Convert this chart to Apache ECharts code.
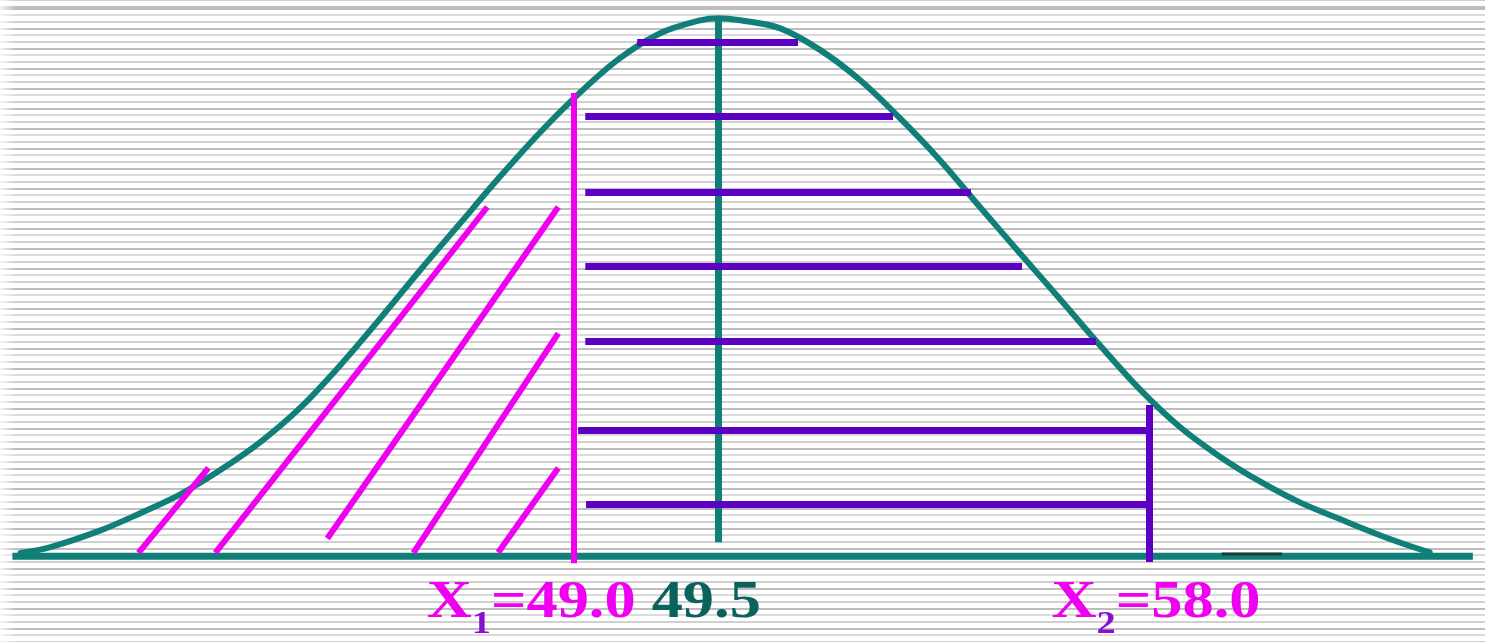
<!DOCTYPE html>
<html>
<head>
<meta charset="utf-8">
<script src="https://cdn.jsdelivr.net/npm/echarts@6/dist/echarts.min.js"></script>
<style>
  html, body { margin: 0; padding: 0; width: 1485px; height: 642px; overflow: hidden; }
  body {
    background-color: #fff;
    background-image:
      linear-gradient(to right, rgba(255,255,255,0.8) 0, rgba(255,255,255,0) 16px),
      repeating-linear-gradient(to bottom,
        #bdbdbd 0, #bdbdbd 2px, #fff 2px, #fff 6px,
        #dadada 6px, #dadada 8px, #fff 8px, #fff 13px,
        #d0d0d0 13px, #d0d0d0 15px, #fff 15px, #fff 20px);
    background-position: 0 0, 0 8px;
  }
  #chart { width: 1485px; height: 642px; }
</style>
</head>
<body>
<div id="chart"></div>
<script>
// Bell curve, in standard units (z) against relative height (peak = 1)
const curveZ = [-2.660, -2.547, -2.358, -2.208, -2.057, -1.906, -1.755, -1.604, -1.453, -1.302,
                -1.151, -1.000, -0.849, -0.698, -0.547, -0.396, -0.245, -0.094, -0.026, 0.057,
                0.208, 0.358, 0.509, 0.660, 0.811, 0.962, 1.113, 1.264, 1.415, 1.566,
                1.717, 1.868, 2.019, 2.170, 2.321, 2.472, 2.585, 2.660];
const curveH = [0.006, 0.017, 0.048, 0.080, 0.115, 0.160, 0.212, 0.276, 0.355, 0.442,
                0.532, 0.619, 0.706, 0.788, 0.862, 0.926, 0.972, 0.996, 1.000, 0.996,
                0.981, 0.941, 0.885, 0.814, 0.736, 0.649, 0.563, 0.478, 0.392, 0.310,
                0.240, 0.185, 0.139, 0.100, 0.069, 0.039, 0.019, 0.007];

// Horizontal axis line and a short dark nick sitting on it
const baselineZ = [-2.691, 2.823];
const baselineNickZ = [1.875, 2.102];

// Reference lines: X1, the mean and X2
const markerValues = [49.0, 49.5, 58.0];
const markerSubs = ['1', '', '2'];
const markerZ = [-0.570, -0.026, 1.600];
const markerBottom = [-0.013, 0.026, -0.011];
const markerTop = [0.861, 1.000, 0.281];

// Horizontal hatching of the area between X1 and X2
const bandLevels = [0.956, 0.817, 0.677, 0.539, 0.400, 0.235, 0.097];
const bandStart = [-0.332, -0.528, -0.528, -0.528, -0.528, -0.555, -0.525];
const bandEnd = [0.275, 0.634, 0.928, 1.121, 1.400, 1.600, 1.600];

// Diagonal hatching of the left tail (below X1)
const tailHatchStart = [[-2.215, 0.006], [-1.925, 0.006], [-1.502, 0.033], [-1.177, 0.006], [-0.857, 0.007]];
const tailHatchEnd = [[-1.951, 0.164], [-0.898, 0.649], [-0.630, 0.649], [-0.630, 0.414], [-0.630, 0.164]];

const TEAL = '#0f7f78';
const MAGENTA = '#f000f0';
const PURPLE = '#5c00c4';
const SUB_PURPLE = '#8a10d0';
const markerColors = [MAGENTA, TEAL, PURPLE];
const markerWidths = [6, 7, 7];
const labelShift = [-43, -12, 7];
const LABEL_LEVEL = -0.0985;

const chart = echarts.init(document.getElementById('chart'), null, { renderer: 'canvas' });

const seg = (a, b) => ({ coords: [a, b] });

const bandData = bandLevels.map((h, i) => seg([bandStart[i], h], [bandEnd[i], h]));
const tailData = tailHatchStart.map((p, i) => seg(p, tailHatchEnd[i]));

const markerSeries = markerZ.map((z, i) => ({
  type: 'lines',
  coordinateSystem: 'cartesian2d',
  polyline: false,
  silent: true,
  z: i === 1 ? 3 : 6,
  lineStyle: { color: markerColors[i], width: markerWidths[i], opacity: 1, cap: 'butt' },
  data: [seg([z, markerBottom[i]], [z, markerTop[i]])]
}));

const serif = '"Liberation Serif", "DejaVu Serif", serif';
const richStyles = {
  m: { fontFamily: serif, fontWeight: 'bold', fontSize: 52, fill: MAGENTA, color: MAGENTA, lineHeight: 64, verticalAlign: 'top' },
  t: { fontFamily: serif, fontWeight: 'bold', fontSize: 52, fill: '#0b625c', color: '#0b625c', lineHeight: 64, verticalAlign: 'top' },
  s: { fontFamily: serif, fontWeight: 'bold', fontSize: 32, fill: SUB_PURPLE, color: SUB_PURPLE, lineHeight: 64, verticalAlign: 'bottom' }
};

function labelText(i) {
  const v = markerValues[i].toFixed(1);
  return markerSubs[i]
    ? '{m|X}{s|' + markerSubs[i] + '}{m|=' + v + '}'
    : '{t|' + v + '}';
}

chart.setOption({
  animation: false,
  backgroundColor: 'transparent',
  grid: { left: 10, right: 5, top: 2, bottom: 32 },
  xAxis: { type: 'value', min: -2.7, max: 2.85, show: false },
  yAxis: { type: 'value', min: -0.1, max: 1.03, show: false },
  series: [
    {
      type: 'line',
      data: baselineZ.map(z => [z, 0]),
      showSymbol: false,
      clip: false,
      silent: true,
      z: 1,
      lineStyle: { color: TEAL, width: 7, cap: 'butt' }
    },
    {
      type: 'line',
      data: baselineNickZ.map(z => [z, 0.004]),
      showSymbol: false,
      clip: false,
      silent: true,
      z: 2,
      lineStyle: { color: '#183c3a', width: 3, cap: 'butt' }
    },
    {
      type: 'line',
      data: curveZ.map((z, i) => [z, curveH[i]]),
      smooth: 0.35,
      showSymbol: false,
      clip: false,
      silent: true,
      z: 2,
      lineStyle: { color: TEAL, width: 6, cap: 'round', join: 'round' }
    },
    {
      type: 'lines',
      coordinateSystem: 'cartesian2d',
      polyline: false,
      silent: true,
      z: 4,
      lineStyle: { color: PURPLE, width: 7, opacity: 1, cap: 'butt' },
      data: bandData
    },
    {
      type: 'lines',
      coordinateSystem: 'cartesian2d',
      polyline: false,
      silent: true,
      z: 5,
      lineStyle: { color: MAGENTA, width: 6, opacity: 1, cap: 'butt' },
      data: tailData
    },
    ...markerSeries,
    {
      // Value labels under each reference line
      type: 'custom',
      coordinateSystem: 'cartesian2d',
      silent: true,
      clip: false,
      z: 7,
      data: markerZ.map((z, i) => [z, LABEL_LEVEL, i]),
      renderItem: function (params, api) {
        const i = api.value(2);
        const p = api.coord([api.value(0), api.value(1)]);
        return {
          type: 'text',
          x: p[0] + labelShift[i],
          y: p[1],
          scaleX: 1.2,
          style: {
            text: labelText(i),
            rich: richStyles,
            align: 'center',
            verticalAlign: 'middle'
          }
        };
      }
    }
  ]
});
</script>
</body>
</html>
